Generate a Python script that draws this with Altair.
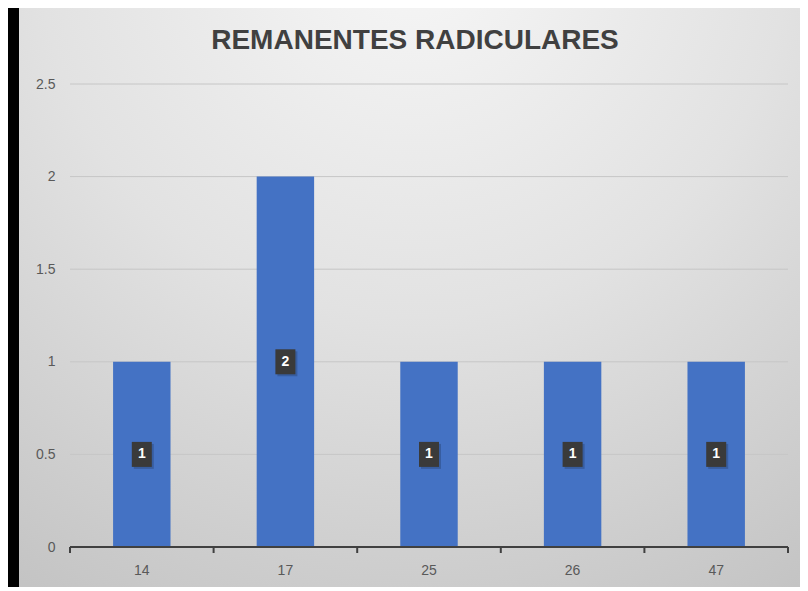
import altair as alt
import pandas as pd

categories = ["14", "17", "25", "26", "47"]
values = [1, 2, 1, 1, 1]
y_ticks = [0, 0.5, 1, 1.5, 2, 2.5]
title_text = "REMANENTES RADICULARES"

df = pd.DataFrame({"cat": categories, "val": values})
df["mid"] = df["val"] / 2
df["lbl"] = df["val"].astype(str)
grid_df = pd.DataFrame({"g": y_ticks[1:]})

W, H = 718, 463

xs = alt.Scale(domain=categories, paddingInner=0, paddingOuter=0)
ys = alt.Scale(domain=[0, 2.5], nice=False)

y_axis = alt.Axis(title=None, values=y_ticks, format="~g",
                  ticks=False, domain=False, labelColor="#595959",
                  labelFont="Liberation Sans", labelFontSize=14,
                  labelPadding=15, grid=False, zindex=1)

bg = alt.Chart(df).mark_rect(
    fill=alt.RadialGradient(
        gradient="radial",
        x1=0.5, y1=0.05, r1=0.0,
        x2=0.5, y2=0.05, r2=0.95,
        stops=[alt.GradientStop(offset=0, color="#f7f7f7"),
               alt.GradientStop(offset=0.5, color="#e2e2e2"),
               alt.GradientStop(offset=1, color="#c4c4c4")],
    ),
    clip=False,
).encode(x=alt.value(-51), x2=alt.value(738), y=alt.value(-81), y2=alt.value(507))

grid = alt.Chart(grid_df).mark_rule(color="#c6c6c6", strokeWidth=1).encode(
    y=alt.Y("g:Q", scale=ys, axis=y_axis), x=alt.value(0), x2=alt.value(W))

base = alt.Chart(df)

bars = base.mark_bar(color="#4472C4", width=alt.RelativeBandSize(0.4)).encode(
    x=alt.X("cat:N", scale=xs, sort=categories,
            axis=alt.Axis(title=None, labelAngle=0, ticks=False, domain=False,
                          labelColor="#595959", labelFont="Liberation Sans",
                          labelFontSize=14, labelPadding=16, grid=False, zindex=1)),
    y=alt.Y("val:Q", scale=ys, axis=y_axis),
)

domain_line = base.mark_rule(color="#404040", strokeWidth=2).encode(
    x=alt.value(0), x2=alt.value(W), y=alt.value(H))

ticks_df = base.mark_rule(color="#404040", strokeWidth=2).encode(
    x=alt.X("cat:N", scale=xs, sort=categories, bandPosition=0),
    y=alt.value(H), y2=alt.value(H + 6))
last_tick = base.mark_rule(color="#404040", strokeWidth=2).encode(
    x=alt.value(W), y=alt.value(H), y2=alt.value(H + 6))

shadow = base.mark_point(
    shape="M-0.8,-1L0.8,-1L0.8,1L-0.8,1Z", filled=True, size=25 * 25,
    color="#000000", opacity=0.18, xOffset=2, yOffset=2).encode(
    x=alt.X("cat:N", scale=xs, sort=categories), y=alt.Y("mid:Q", scale=ys))
box = base.mark_point(
    shape="M-0.8,-1L0.8,-1L0.8,1L-0.8,1Z", filled=True, size=25 * 25,
    color="#3a3a3a", opacity=1).encode(
    x=alt.X("cat:N", scale=xs, sort=categories), y=alt.Y("mid:Q", scale=ys))
txt = base.mark_text(color="white", fontWeight="bold", fontSize=14,
                     font="Liberation Sans", baseline="middle").encode(
    x=alt.X("cat:N", scale=xs, sort=categories), y=alt.Y("mid:Q", scale=ys),
    text="lbl:N")

title = alt.Chart(pd.DataFrame({"t": [title_text]})).mark_text(
    font="Liberation Sans", fontSize=28, fontWeight="bold", color="#404040",
    baseline="middle", align="center").encode(
    x=alt.value(345), y=alt.value(-43), text="t:N")

chart = alt.layer(bg, grid, bars, domain_line, ticks_df, last_tick, shadow, box, txt, title).properties(
    width=W, height=H,
    autosize=alt.AutoSizeParams(type="none"),
    padding={"left": 62, "top": 76, "right": 12, "bottom": 40},
    background="#000000",
).configure_view(stroke=None)

chart.save("out.html", embed_options={"renderer": "svg", "actions": False})
